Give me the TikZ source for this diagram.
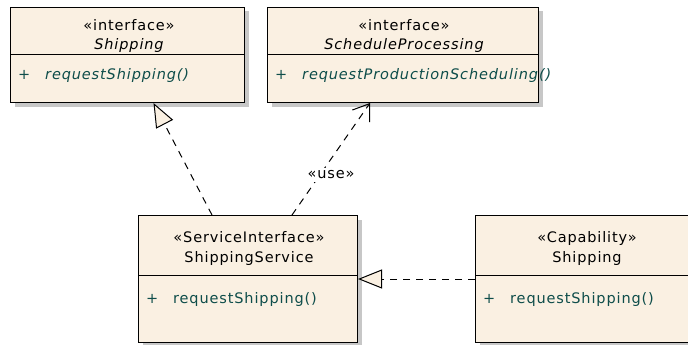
\documentclass[tikz,border=0pt]{standalone}
\usepackage{fontspec}
\setmainfont{DejaVu Sans}[LetterSpace=6]
\usetikzlibrary{arrows.meta, shadows}
\definecolor{umlfill}{HTML}{FAF0E2}
\definecolor{optext}{HTML}{0E4D4A}

\begin{document}
\begin{tikzpicture}[x=1pt, y=-1pt, font=\fontsize{14.5}{16}\selectfont,
    classbox/.style={draw, fill=umlfill, line width=1pt, anchor=north west, inner sep=0pt,
      drop shadow={shadow xshift=4pt, shadow yshift=-4pt, fill=black!22, opacity=1}},
    divider/.style={line width=1pt},
    lbl/.style={anchor=base, inner sep=0pt},
    optxt/.style={text=optext, anchor=base west, inner sep=0pt},
    realize/.style={dash pattern=on 7pt off 6pt, line width=1pt,
      -{Triangle[fill=umlfill, length=24pt, width=19pt, line width=1pt]}},
    usedep/.style={dash pattern=on 7pt off 6pt, line width=1pt,
      -{Straight Barb[length=15pt, width=21pt, line width=1pt]}}]
\useasboundingbox (0,0) rectangle (688,345);

% interfaces
\node[classbox, minimum width=234pt, minimum height=95pt] (shipIf) at (10,7) {};
\draw[divider] (shipIf.west |- 0,55) -- (shipIf.east |- 0,55);
\node[lbl] (shipIfSt) at (129,31) {«interface»};
\node[lbl] (shipIfName) at (129,50) {\itshape Shipping};
\node[optxt] (shipIfPlus) at (18,80) {+};
\node[optxt] (shipIfOp) at (45,80) {\itshape requestShipping()};

\node[classbox, minimum width=271pt, minimum height=95pt] (schedIf) at (267,7) {};
\draw[divider] (schedIf.west |- 0,55) -- (schedIf.east |- 0,55);
\node[lbl] (schedIfSt) at (404,31) {«interface»};
\node[lbl] (schedIfName) at (404,50) {\itshape ScheduleProcessing};
\node[optxt] (schedIfPlus) at (275,80) {+};
\node[optxt] (schedIfOp) at (302,80) {\itshape requestProductionScheduling()};

% service interface
\node[classbox, minimum width=219pt, minimum height=127pt] (svc) at (138,215) {};
\draw[divider] (svc.west |- 0,275) -- (svc.east |- 0,275);
\node[lbl] (svcSt) at (249,242) {«ServiceInterface»};
\node[lbl] (svcName) at (249,262) {ShippingService};
\node[optxt] (svcPlus) at (146,303) {+};
\node[optxt] (svcOp) at (173,303) {requestShipping()};

% capability
\node[classbox, minimum width=230pt, minimum height=127pt] (cap) at (475,215) {};
\draw[divider] (cap.west |- 0,275) -- (cap.east |- 0,275);
\node[lbl] (capSt) at (587,242) {«Capability»};
\node[lbl] (capName) at (587,262) {Shipping};
\node[optxt] (capPlus) at (483,303) {+};
\node[optxt] (capOp) at (510,303) {requestShipping()};

% relations
\draw[realize] ([xshift=-36pt]svc.north) -- ([xshift=26pt]shipIf.south);
\draw[usedep] ([xshift=44pt]svc.north) -- ([xshift=-33pt]schedIf.south);
\node[fill=white, inner sep=3pt] (useLbl) at (331,175) {«use»};
\draw[realize] (cap.west |- 0,279) -- (svc.east |- 0,279);
\end{tikzpicture}
\end{document}
